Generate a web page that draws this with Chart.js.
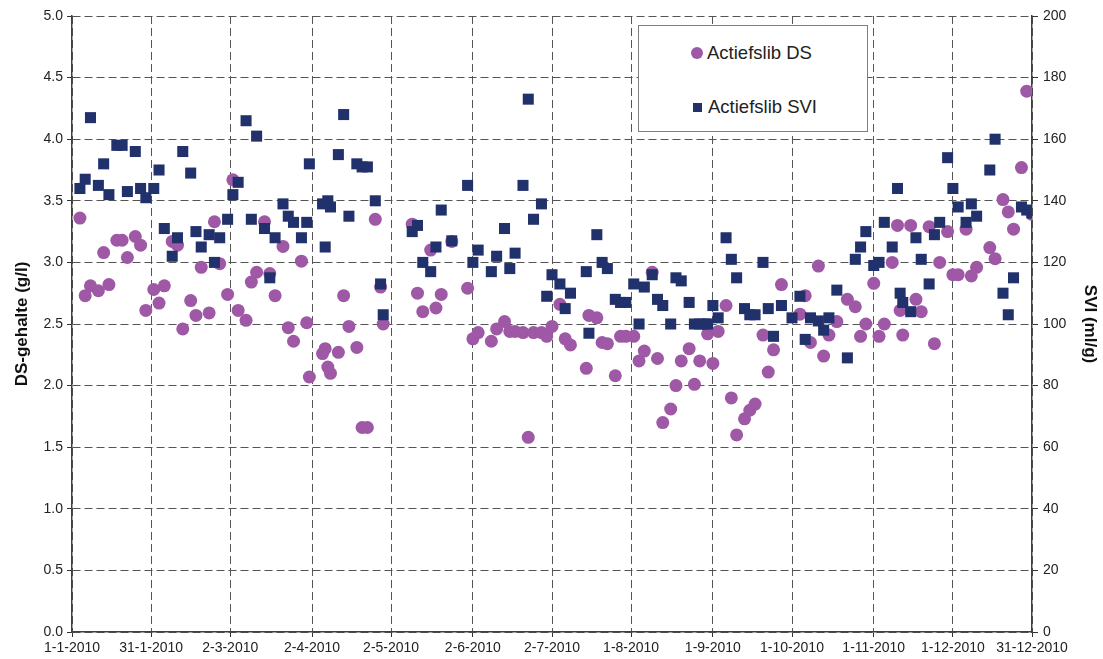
<!DOCTYPE html>
<html>
<head>
<meta charset="utf-8">
<script src="https://cdn.jsdelivr.net/npm/chart.js@4/dist/chart.umd.min.js"></script>
<style>
    body { margin: 0; background: #fff; }
    #wrap { position: relative; width: 1103px; height: 659px; }
    #legend {
        position: absolute; left: 638px; top: 25px; width: 228px; height: 105px;
        border: 1px solid #7f7f7f; background: #fff;
        font-family: "Liberation Sans", Arial, sans-serif; font-size: 18.5px; color: #222;
    }
    .item { position: absolute; left: 52px; display: flex; align-items: center; }
    .dot { width: 12px; height: 12px; border-radius: 50%; background: #9e58a6; margin-right: 4px; }
    .sq { width: 9px; height: 9px; background: #21316b; margin-right: 6px; margin-left: 2px; }
</style>
</head>
<body>
<div id="wrap">
    <canvas id="chart" width="1103" height="659"></canvas>
    <div id="legend">
        <div class="item" style="top:16px"><span class="dot"></span>Actiefslib DS</div>
        <div class="item" style="top:70px"><span class="sq"></span>Actiefslib SVI</div>
    </div>
</div>
<script>
// x tick labels (dates, d-m-yyyy)
const tickLabels = ['1-1-2010', '31-1-2010', '2-3-2010', '2-4-2010', '2-5-2010', '2-6-2010', '2-7-2010',
    '1-8-2010', '1-9-2010', '1-10-2010', '1-11-2010', '1-12-2010', '31-12-2010'];

// sample day (days after 1-1-2010)
const sampleDays = [3, 5, 7, 10, 12, 14, 17, 19, 21, 24, 26, 28, 31, 33, 35, 38, 40, 42, 45, 47, 49,
    52, 54, 56, 59, 61, 63, 66, 68, 70, 73, 75, 77, 80, 82, 84, 87, 89, 90, 95, 96, 97, 98,
    101, 103, 105, 108, 110, 112, 115, 117, 118, 129, 131, 133, 136, 138, 140, 144, 150, 152, 154,
    159, 161, 164, 166, 168, 171, 173, 175, 178, 180, 182, 185, 187, 189, 195, 196, 199, 201, 203,
    206, 208, 210, 213, 215, 217, 220, 222, 224, 227, 229, 231, 234, 236, 238, 240, 241, 243, 245,
    248, 250, 252, 255, 257, 259, 262, 264, 266, 269, 273, 276, 278, 280, 283, 285, 287, 290, 294,
    297, 299, 301, 304, 306, 308, 311, 313, 314, 315, 318, 320, 322, 325, 327, 329, 332, 334, 336,
    339, 341, 343, 348, 350, 353, 355, 357, 360, 362, 364];

// Actiefslib DS (g/l)
const dsValues = [3.36, 2.73, 2.81, 2.77, 3.08, 2.82, 3.18, 3.18, 3.04, 3.21, 3.14, 2.61, 2.78, 2.67, 2.81, 3.17, 3.14, 2.46, 2.69, 2.57, 2.96,
    2.59, 3.33, 2.99, 2.74, 3.67, 2.61, 2.53, 2.84, 2.92, 3.33, 2.91, 2.73, 3.13, 2.47, 2.36, 3.01, 2.51, 2.07, 2.26, 2.30, 2.15, 2.10,
    2.27, 2.73, 2.48, 2.31, 1.66, 1.66, 3.35, 2.80, 2.50, 3.31, 2.75, 2.60, 3.10, 2.63, 2.74, 3.17, 2.79, 2.38, 2.43,
    2.36, 2.46, 2.52, 2.44, 2.44, 2.43, 1.58, 2.43, 2.43, 2.40, 2.48, 2.66, 2.38, 2.33, 2.14, 2.57, 2.55, 2.35, 2.34,
    2.08, 2.40, 2.40, 2.40, 2.20, 2.28, 2.92, 2.22, 1.70, 1.81, 2.00, 2.20, 2.30, 2.01, 2.20, null, 2.42, 2.18, 2.44,
    2.65, 1.90, 1.60, 1.73, 1.80, 1.85, 2.41, 2.11, 2.29, 2.82, null, 2.58, 2.73, 2.35, 2.97, 2.24, 2.41, 2.52, 2.70,
    2.64, 2.40, 2.50, 2.83, 2.40, 2.50, 3.00, 3.30, 2.61, 2.41, 3.30, 2.70, 2.60, 3.29, 2.34, 3.00, 3.25, 2.90, 2.90,
    3.27, 2.89, 2.96, 3.12, 3.03, 3.51, 3.41, 3.27, 3.77, 4.39, 3.39];

// Actiefslib SVI (ml/g)
const sviValues = [144, 147, 167, 145, 152, 142, 158, 158, 143, 156, 144, 141, 144, 150, 131, 122, 128, 156, 149, 130, 125,
    129, 120, 128, 134, 142, 146, 166, 134, 161, 131, 115, 128, 139, 135, 133, 128, 133, 152, 139, 125, 140, 138,
    155, 168, 135, 152, 151, 151, 140, 113, 103, 130, 132, 120, 117, 125, 137, 127, 145, 120, 124,
    117, 122, 131, 118, 123, 145, 173, 134, 139, 109, 116, 113, 105, 110, 117, 97, 129, 120, 118,
    108, 107, 107, 113, 100, 112, 116, 108, 106, 100, 115, 114, 107, 100, 100, 100, 100, 106, 102,
    128, 121, 115, 105, 103, 103, 120, 105, 96, 106, 102, 109, 95, 102, 101, 98, 102, 111, 89,
    121, 125, 130, 119, 120, 133, 125, 144, 110, 107, 104, 128, 121, 113, 129, 133, 154, 144, 138,
    133, 139, 135, 150, 160, 110, 103, 115, 138, 137, 136];

function dayOfYear(label) {
    let p = label.split('-').map(Number);
    return (Date.UTC(p[2], p[1] - 1, p[0]) - Date.UTC(2010, 0, 1)) / 86400000;
}

function toPoints(values) {
    let pts = [];
    for (let i = 0; i < sampleDays.length; i++) {
        if (values[i] !== null) pts.push({ x: sampleDays[i], y: values[i] });
    }
    return pts;
}

const tickFont = { family: '"Liberation Sans", Arial, sans-serif', size: 14 };
const titleFont = { family: '"Liberation Sans", Arial, sans-serif', size: 17, weight: 'bold' };

let config = {
    type: 'scatter',
    data: {
        datasets: [
            {
                label: 'Actiefslib DS',
                data: toPoints(dsValues),
                yAxisID: 'y',
                pointStyle: 'circle',
                pointRadius: 6.5,
                backgroundColor: '#9e58a6',
                borderColor: '#9e58a6',
                borderWidth: 0,
                order: 2
            },
            {
                label: 'Actiefslib SVI',
                data: toPoints(sviValues),
                yAxisID: 'y2',
                pointStyle: 'rect',
                pointRadius: 7.8,
                backgroundColor: '#21316b',
                borderColor: '#21316b',
                borderWidth: 0,
                order: 1
            }
        ]
    },
    options: {
        responsive: false,
        animation: false,
        layout: { padding: { top: 16, left: 0, right: 0, bottom: 0 } },
        plugins: {
            legend: { display: false },
            tooltip: { enabled: false }
        },
        scales: {
            x: {
                type: 'linear',
                min: 0,
                max: 364,
                afterBuildTicks: (scale) => {
                    scale.ticks = tickLabels.map(l => ({ value: dayOfYear(l) }));
                },
                afterFit: (scale) => { scale.height = 27; },
                ticks: {
                    autoSkip: false,
                    maxRotation: 0,
                    padding: 3,
                    color: '#222',
                    font: tickFont,
                    callback: (v, i) => tickLabels[i]
                },
                grid: {
                    color: '#555',
                    lineWidth: 1,
                    tickLength: 5,
                    tickColor: '#333',
                    tickBorderDash: []
                },
                border: { display: true, color: '#404040', width: 1.5, dash: [8, 4] }
            },
            y: {
                position: 'left',
                min: 0,
                max: 5,
                afterFit: (scale) => { scale.width = 72; scale.paddingTop = 0; scale.paddingBottom = 0; },
                ticks: {
                    stepSize: 0.5,
                    padding: 4,
                    color: '#222',
                    font: tickFont,
                    callback: (v) => v.toFixed(1)
                },
                title: {
                    display: true,
                    text: 'DS-gehalte (g/l)',
                    color: '#111',
                    font: titleFont,
                    padding: { top: 12, bottom: 0 }
                },
                grid: {
                    color: '#555',
                    lineWidth: 1,
                    tickLength: 5,
                    tickColor: '#333',
                    tickBorderDash: []
                },
                border: { display: true, color: '#404040', width: 1.5, dash: [8, 4] }
            },
            y2: {
                position: 'right',
                min: 0,
                max: 200,
                afterFit: (scale) => { scale.width = 71; scale.paddingTop = 0; scale.paddingBottom = 0; },
                ticks: {
                    stepSize: 20,
                    padding: 5,
                    color: '#222',
                    font: tickFont
                },
                title: {
                    display: true,
                    text: 'SVI (ml/g)',
                    color: '#111',
                    font: titleFont,
                    padding: { top: 3, bottom: 0 }
                },
                grid: {
                    drawOnChartArea: false,
                    tickLength: 6,
                    tickColor: '#333'
                },
                border: { display: true, color: '#404040', width: 1.5 }
            }
        }
    }
};

let ctx = document.getElementById('chart').getContext('2d');
window.myChart = new Chart(ctx, config);
</script>
</body>
</html>
